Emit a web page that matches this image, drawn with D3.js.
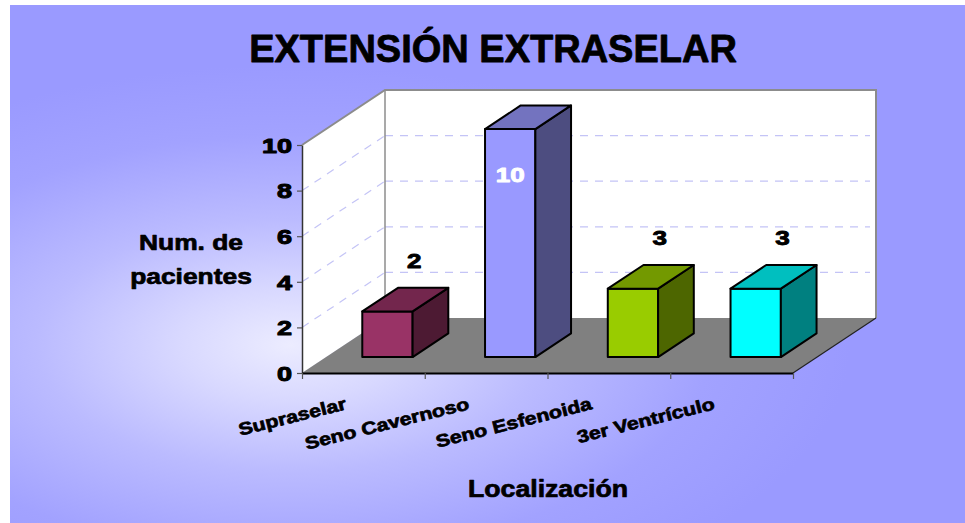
<!DOCTYPE html>
<html>
<head>
<meta charset="utf-8">
<script src="https://cdn.jsdelivr.net/npm/d3@7"></script>
<style>
  html, body { margin: 0; padding: 0; background: #ffffff; }
  svg { display: block; }
  text { font-family: "Liberation Sans", Arial, sans-serif; font-weight: bold; fill: #000; stroke: #000; stroke-width: 0.7px; stroke-linejoin: round; }
</style>
</head>
<body>
<script>
// Chart data
const categories = ["Supraselar", "Seno Cavernoso", "Seno Esfenoida", "3er Ventrículo"];
const values = [2, 10, 3, 3];
const yTicks = [0, 2, 4, 6, 8, 10];
const barColors = ["#993366", "#9999FF", "#99CC00", "#00FFFF"];
const titleText = "EXTENSIÓN EXTRASELAR";
const yTitleLines = ["Num. de", "pacientes"];
const xTitleText = "Localización";

const W = 965, H = 523;
const svg = d3.select("body").append("svg").attr("width", W).attr("height", H);
const defs = svg.append("defs");

// Background: soft lavender glow centred left of the plot
const bg = defs.append("radialGradient").attr("id", "bgGrad")
  .attr("gradientUnits", "userSpaceOnUse")
  .attr("cx", 290).attr("cy", 345).attr("r", 560)
  .attr("gradientTransform", "translate(290,345) scale(1,0.5) translate(-290,-345)");
[[0, "#ececff"], [0.2, "#d8d8ff"], [0.45, "#bbbbff"], [0.75, "#a2a2ff"], [1, "#9a9aff"]]
  .forEach(([o, c]) => bg.append("stop").attr("offset", o).attr("stop-color", c));
svg.append("rect").attr("x", 10).attr("y", 5).attr("width", W - 10).attr("height", H - 5)
  .attr("fill", "url(#bgGrad)");

// Scales: front plane of the 3D box, plus a fixed oblique depth offset
const x = d3.scaleBand().domain(categories).range([302, 793]);
const xEdge = d3.scaleLinear().domain([0, categories.length]).range(x.range());
const y = d3.scaleLinear().domain([0, 10]).range([373, 145]);
const DX = 83, DY = -55;           // full depth of the box
const z0 = 0.29, z1 = 0.72;        // bar front / back depth
const barW = x.bandwidth() * 0.41;
const P = (px, v, z) => [px + z * DX, y(v) + z * DY];
const poly = pts => "M" + pts.map(p => p.join(",")).join("L") + "Z";

const x0 = x.range()[0], x1 = x.range()[1];
const vMax = y.domain()[1];

// Walls and floor
svg.append("path").attr("d", poly([P(x0, 0, 1), P(x1, 0, 1), P(x1, vMax, 1), P(x0, vMax, 1)]))
  .attr("fill", "#ffffff");
svg.append("path").attr("d", poly([P(x0, 0, 0), P(x0, 0, 1), P(x0, vMax, 1), P(x0, vMax, 0)]))
  .attr("fill", "#ffffff");
svg.append("path").attr("d", poly([P(x0, 0, 0), P(x1, 0, 0), P(x1, 0, 1), P(x0, 0, 1)]))
  .attr("fill", "#808080");

// Gridlines (dashed) on back and side walls
const grid = svg.append("g").attr("stroke", "#c4c4f6").attr("stroke-width", 1.2)
  .attr("stroke-dasharray", "8,7").attr("fill", "none");
yTicks.filter(v => v > 0 && v < vMax).forEach(v => {
  grid.append("path").attr("d", "M" + P(x0, v, 1) + "L" + P(x1 - 6, v, 1));
  grid.append("path").attr("d", "M" + P(x0, v, 0) + "L" + P(x0, v, 1));
});

// Wall frame edges
const frame = svg.append("g").attr("stroke", "#8c8c8c").attr("stroke-width", 2).attr("fill", "none");
frame.append("path").attr("d", "M" + P(x0, vMax, 0) + "L" + P(x0, vMax, 1) + "L" + P(x1, vMax, 1) + "L" + P(x1, 0, 1));
frame.append("path").attr("d", "M" + P(x0, vMax, 1) + "L" + P(x0, 0, 1)).attr("stroke-width", 1.5);
svg.append("path").attr("d", "M" + P(x1, 0, 0) + "L" + P(x1, 0, 1))
  .attr("stroke", "#222").attr("stroke-width", 1.2).attr("fill", "none");

// Bars as 3D boxes
const shade = (c, k) => d3.interpolateRgb(c, "#000000")(k);
const bars = svg.append("g").attr("stroke", "#000").attr("stroke-width", 2).attr("stroke-linejoin", "round");
values.forEach((v, i) => {
  const c = categories[i];
  const l = x(c) + x.bandwidth() / 2 - barW / 2, r = l + barW;
  const col = barColors[i];
  // front
  bars.append("path").attr("d", poly([P(l, 0, z0), P(r, 0, z0), P(r, v, z0), P(l, v, z0)])).attr("fill", col);
  // side
  bars.append("path").attr("d", poly([P(r, 0, z0), P(r, 0, z1), P(r, v, z1), P(r, v, z0)])).attr("fill", shade(col, 0.5));
  // top
  bars.append("path").attr("d", poly([P(l, v, z0), P(r, v, z0), P(r, v, z1), P(l, v, z1)])).attr("fill", shade(col, 0.25));
});

// Horizontally stretched text helper
function sText(parent, tx, ty, str, size, sx, anchor, rot) {
  const g = parent.append("g")
    .attr("transform", `translate(${tx},${ty})` + (rot ? ` rotate(${rot})` : "") + ` scale(${sx},1)`);
  return g.append("text").attr("text-anchor", anchor || "middle").attr("font-size", size).text(str);
}

// Value labels
const labels = svg.append("g");
values.forEach((v, i) => {
  const c = categories[i];
  const cx = x(c) + x.bandwidth() / 2;
  if (v === vMax) {
    const [fx, fy] = P(cx, v, z0);
    sText(labels, fx, fy + 53, String(v), 20, 1.3).style("fill", "#ffffff").style("stroke", "#ffffff").style("stroke-width", "0.9px");
  } else {
    const [tx, ty] = P(cx, v, (z0 + z1) / 2);
    sText(labels, tx + 9, ty - 32, String(v), 20, 1.3).style("stroke-width", "0.9px");
  }
});

// Y axis
const yAxis = svg.append("g").attr("transform", `translate(${x0},0)`)
  .call(d3.axisLeft(y).tickValues(yTicks).tickSize(5).tickSizeOuter(0).tickPadding(8));
yAxis.select(".domain").attr("stroke", "#333").attr("stroke-width", 1.5);
yAxis.selectAll(".tick line").attr("stroke", "#555").attr("stroke-width", 1.2);
yAxis.selectAll(".tick text")
  .attr("font-size", 20).attr("font-family", null).attr("fill", null).attr("x", -7.4).attr("dy", "0.36em")
  .attr("transform", "scale(1.35,1)").style("stroke-width", "1px");

// X axis line with ticks at category boundaries
const xAxis = svg.append("g").attr("transform", `translate(0,${y(0)})`)
  .call(d3.axisBottom(xEdge).tickValues(d3.range(categories.length + 1)).tickSize(6).tickSizeOuter(0).tickFormat(""));
xAxis.select(".domain").attr("stroke", "#000").attr("stroke-width", 1.8);
xAxis.selectAll(".tick line").attr("stroke", "#555").attr("stroke-width", 1.2);

// Category labels, slanted
categories.forEach(c => {
  sText(svg, x(c) + x.bandwidth() / 2 - 16, 409, c, 17.5, 1.22, "end", -14);
});

// Titles
sText(svg, 493, 62, titleText, 38, 1.0).style("stroke-width", "0.8px");
sText(svg, 191, 250, yTitleLines[0], 22, 1.2);
sText(svg, 191, 284, yTitleLines[1], 22, 1.2);
sText(svg, 548, 497, xTitleText, 23, 1.16);
</script>
</body>
</html>
